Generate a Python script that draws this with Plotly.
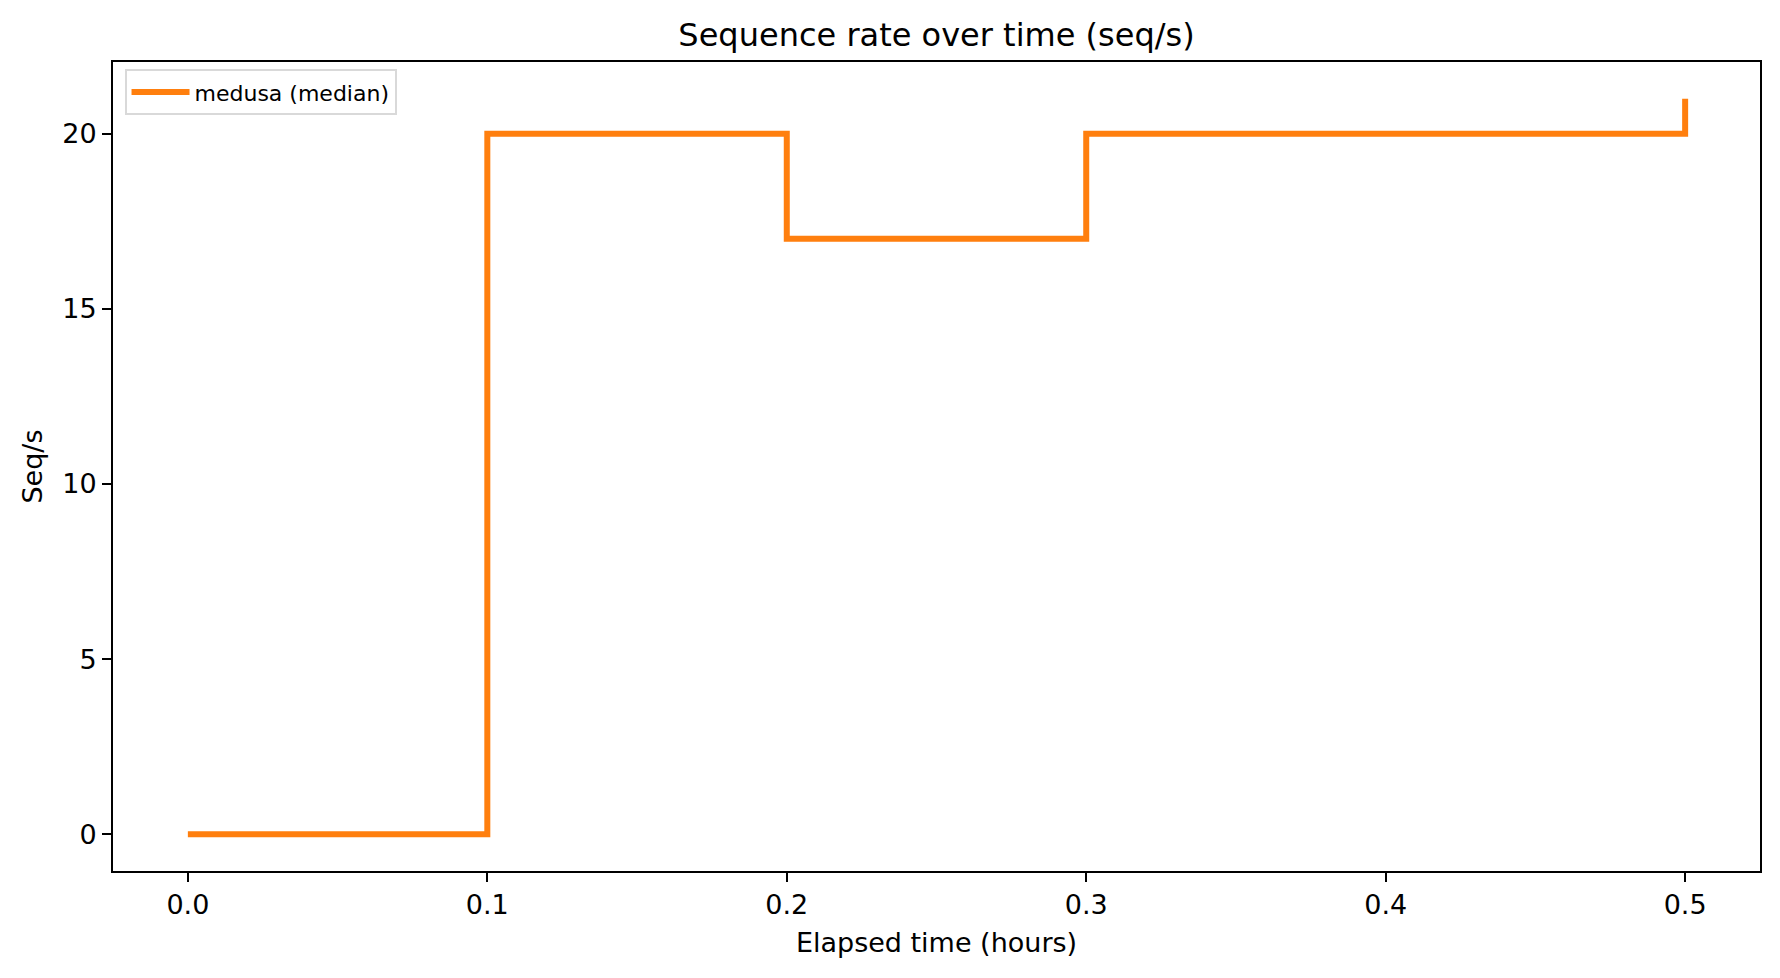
import plotly.graph_objects as go

# Median sequence rate per time bucket (step plot, value holds until the next bucket)
elapsed_hours = [0.0, 0.1, 0.2, 0.3, 0.4, 0.5]
seq_rate = [0, 20, 17, 20, 20, 21]
series_name = "medusa (median)"

x_ticks = [0.0, 0.1, 0.2, 0.3, 0.4, 0.5]
y_ticks = [0, 5, 10, 15, 20]

font_family = "DejaVu Sans"

# page body has an 8px margin, so the figure is a bit smaller than the window
fig_w, fig_h = 1772, 970

fig = go.Figure()

fig.add_trace(go.Scatter(
    x=elapsed_hours,
    y=seq_rate,
    mode="lines",
    line=dict(color="#ff7f0e", width=6, shape="hv"),
    name=series_name,
    showlegend=True,
))

axis_common = dict(
    showline=True,
    linecolor="black",
    linewidth=2,
    mirror=True,
    showgrid=False,
    zeroline=False,
    ticks="outside",
    ticklen=9,
    tickwidth=2,
    tickcolor="black",
    tickfont=dict(family=font_family, size=27, color="black"),
)

fig.update_layout(
    width=fig_w,
    height=fig_h,
    margin=dict(l=105, r=20, t=54, b=107),
    paper_bgcolor="white",
    plot_bgcolor="white",
    font=dict(family=font_family, color="black"),
    title=dict(
        text="Sequence rate over time (seq/s)",
        x=0.5,
        xref="paper",
        xanchor="center",
        y=1 - 27 / fig_h,
        yref="container",
        yanchor="middle",
        font=dict(family=font_family, size=32, color="black"),
    ),
    legend=dict(
        x=0.007,
        y=0.991,
        xanchor="left",
        yanchor="top",
        bgcolor="rgba(255,255,255,0.8)",
        bordercolor="#d9d9d9",
        borderwidth=2,
        itemwidth=58,
        font=dict(family=font_family, size=22, color="black"),
    ),
    showlegend=True,
)

fig.update_xaxes(
    range=[-0.025, 0.525],
    tickvals=x_ticks,
    tickformat=".1f",
    title=dict(text="Elapsed time (hours)", font=dict(family=font_family, size=27), standoff=14),
    **axis_common,
)
fig.update_yaxes(
    range=[-1.05, 22.05],
    tickvals=y_ticks,
    title=dict(text="Seq/s", font=dict(family=font_family, size=27), standoff=12),
    **axis_common,
)

fig.write_html("out.html")
